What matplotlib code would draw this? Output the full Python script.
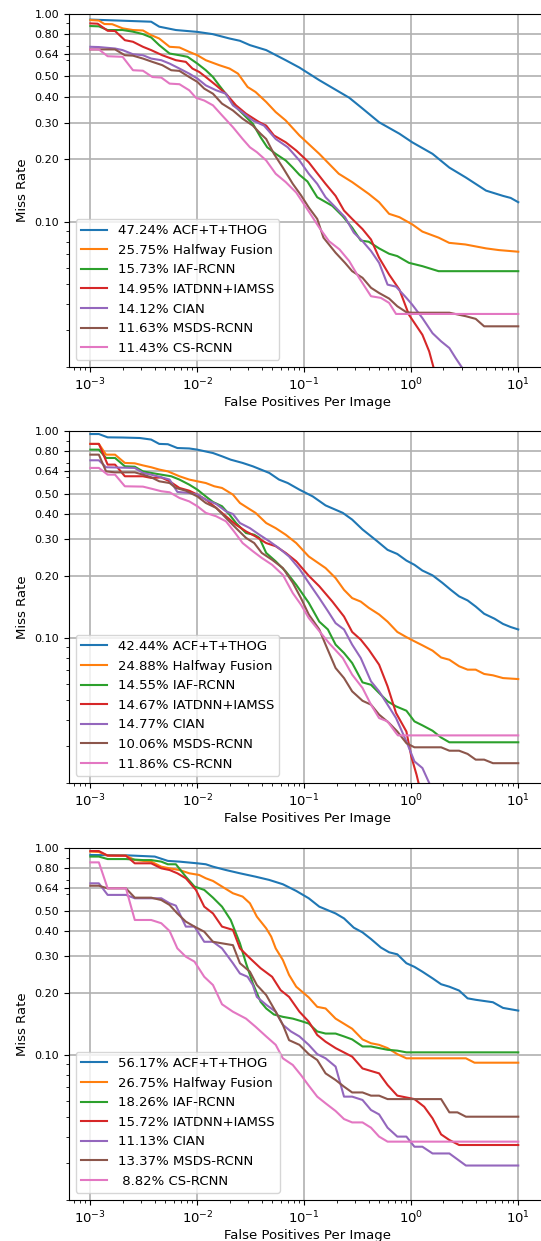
import numpy as np
import matplotlib
matplotlib.use("Agg")
import matplotlib.pyplot as plt

# method names and log-average miss rates shown in the legends
methods = ["ACF+T+THOG", "Halfway Fusion", "IAF-RCNN", "IATDNN+IAMSS",
           "CIAN", "MSDS-RCNN", "CS-RCNN"]
scores_p1 = [47.24, 25.75, 15.73, 14.95, 14.12, 11.63, 11.43]
scores_p2 = [42.44, 24.88, 14.55, 14.67, 14.77, 10.06, 11.86]
scores_p3 = [56.17, 26.75, 18.26, 15.72, 11.13, 13.37, 8.82]

yticks = [0.10, 0.20, 0.30, 0.40, 0.50, 0.64, 0.80, 1.00]

# ---- panel 1 curves: (fppi, miss rate) ----
p1_acf = [(1e-3, .94), (3.7e-3, .918), (4.4e-3, .869), (6.3e-3, .837), (1e-2, .82),
          (1.39e-2, .80), (2e-2, .762), (2.5e-2, .743), (3.1e-2, .708), (4.4e-2, .67),
          (6.7e-2, .599), (.09, .552), (.138, .48), (.263, .395), (.351, .35), (.5, .301),
          (.775, .265), (1.02, .241), (1.58, .212), (2.27, .182), (3.24, .163), (5.0, .141),
          (7.2, .133), (8.5, .13), (10, .124)]
p1_hf = [(1e-3, .935), (1.2e-3, .93), (1.35e-3, .895), (1.6e-3, .893), (2e-3, .853),
         (2.5e-3, .837), (3.1e-3, .833), (3.7e-3, .791), (4.4e-3, .762), (5.5e-3, .695),
         (6.8e-3, .69), (8.4e-3, .657), (1e-2, .633), (1.2e-2, .599), (1.6e-2, .567),
         (2e-2, .546), (2.4e-2, .516), (2.95e-2, .445), (3.5e-2, .421), (4.4e-2, .377),
         (5.4e-2, .337), (6.7e-2, .307), (9e-2, .26), (.138, .212), (.21, .17), (.28, .155),
         (.4, .136), (.5, .124), (.62, .109), (.775, .105), (1.02, .097), (1.27, .0895),
         (1.8, .0837), (2.26, .079), (3.2, .0776), (5.0, .0743), (6.6, .0729), (10, .0716)]
p1_iaf = [(1e-3, .875), (1.2e-3, .872), (1.45e-3, .837), (2e-3, .837), (2.5e-3, .822),
          (3.1e-3, .80), (3.7e-3, .771), (4.4e-3, .708), (5.5e-3, .645), (6.8e-3, .633),
          (8.1e-3, .622), (1e-2, .577), (1.2e-2, .536), (1.4e-2, .497), (1.6e-2, .453),
          (2e-2, .391), (2.3e-2, .356), (2.85e-2, .319), (3.3e-2, .296), (3.9e-2, .255),
          (4.5e-2, .228), (5.4e-2, .212), (6.7e-2, .197), (7.8e-2, .182), (9e-2, .168),
          (.107, .156), (.132, .131), (.183, .119), (.229, .106), (.28, .0935), (.337, .081),
          (.40, .08), (.5, .0743), (.62, .07), (.74, .0682), (.95, .0633), (1.27, .061),
          (1.8, .0577), (10, .0577)]
p1_iat = [(1e-3, .901), (1.17e-3, .898), (1.45e-3, .83), (1.7e-3, .828), (2.1e-3, .748),
          (2.5e-3, .735), (3.1e-3, .695), (3.7e-3, .67), (4.7e-3, .633), (6.3e-3, .599),
          (7.8e-3, .588), (9e-3, .546), (1.04e-2, .526), (1.2e-2, .497), (1.5e-2, .453),
          (1.85e-2, .413), (2.3e-2, .363), (2.85e-2, .331), (3.8e-2, .301), (4.4e-2, .29),
          (5.2e-2, .26), (6.7e-2, .241), (8.4e-2, .22), (.11, .193), (.132, .171),
          (.158, .152), (.196, .133), (.235, .113), (.28, .103), (.35, .092), (.42, .082),
          (.5, .067), (.62, .0556), (.775, .047), (.95, .0356), (1.27, .0285), (1.47, .0237),
          (1.62, .0197), (1.7, .018)]
p1_cian = [(1e-3, .695), (1.2e-3, .693), (1.7e-3, .682), (2e-3, .67), (2.5e-3, .64),
           (3.1e-3, .633), (3.7e-3, .61), (4.6e-3, .599), (5.5e-3, .577), (6.8e-3, .546),
           (8.4e-3, .516), (1e-2, .489), (1.2e-2, .453), (1.5e-2, .429), (1.85e-2, .413),
           (2.15e-2, .363), (2.5e-2, .343), (3.3e-2, .307), (4.2e-2, .29), (5.4e-2, .25),
           (7e-2, .228), (9e-2, .197), (.11, .17), (.132, .152), (.158, .131), (.196, .117),
           (.24, .105), (.29, .0885), (.35, .0805), (.42, .0722), (.5, .0633), (.6, .0497),
           (.72, .0486), (.9, .0429), (1.02, .0398), (1.27, .0343), (1.58, .029),
           (1.9, .0265), (2.27, .0246), (2.6, .022), (3.0, .0197), (3.2, .019)]
p1_msds = [(1e-3, .675), (1.7e-3, .675), (2.1e-3, .633), (2.5e-3, .63), (3.1e-3, .61),
           (3.8e-3, .588), (4.7e-3, .567), (5.7e-3, .536), (6.8e-3, .532), (8.4e-3, .497),
           (1e-2, .471), (1.16e-2, .437), (1.4e-2, .413), (1.7e-2, .37), (2.15e-2, .343),
           (2.65e-2, .313), (3.3e-2, .29), (3.9e-2, .265), (4.4e-2, .25), (5.2e-2, .212),
           (6.3e-2, .182), (7.8e-2, .152), (9.3e-2, .134), (.11, .117), (.132, .103),
           (.151, .0837), (.196, .0708), (.24, .0633), (.28, .0577), (.35, .0536), (.42, .048),
           (.5, .0453), (.62, .0426), (.74, .0391), (.9, .0366), (1.02, .0364), (2.27, .0364),
           (3.24, .035), (4.0, .034), (4.8, .0313), (10, .0313)]
p1_cs = [(1e-3, .675), (1.2e-3, .675), (1.45e-3, .626), (2e-3, .622), (2.5e-3, .536),
         (3.1e-3, .533), (3.8e-3, .497), (4.6e-3, .494), (5.5e-3, .462), (6.8e-3, .459),
         (8.4e-3, .429), (9.7e-3, .395), (1.16e-2, .383), (1.4e-2, .363), (1.7e-2, .325),
         (2.15e-2, .285), (2.65e-2, .25), (3.1e-2, .228), (3.6e-2, .216), (4.4e-2, .197),
         (5.4e-2, .17), (6.7e-2, .155), (8.4e-2, .138), (.11, .112), (.138, .0935),
         (.17, .0805), (.213, .0735), (.263, .0645), (.325, .0536), (.42, .0437),
         (.52, .0429), (.62, .0406), (.72, .0359), (10, .0359)]

# ---- panel 2 curves ----
p2_acf = [(1e-3, .97), (1.2e-3, .97), (1.45e-3, .935), (2e-3, .933), (2.9e-3, .928),
          (3.7e-3, .912), (4.4e-3, .869), (5.3e-3, .866), (6.5e-3, .83), (8.4e-3, .826),
          (1e-2, .815), (1.4e-2, .785), (1.7e-2, .757), (2.05e-2, .729), (2.65e-2, .703),
          (3.3e-2, .677), (4.7e-2, .629), (5.8e-2, .584), (7e-2, .562), (9e-2, .522),
          (.12, .484), (.158, .438), (.229, .403), (.28, .374), (.35, .335), (.48, .294),
          (.6, .267), (.74, .255), (.9, .237), (1.07, .226), (1.27, .212), (1.58, .201),
          (1.95, .185), (2.34, .171), (2.8, .159), (3.36, .152), (4.0, .142), (4.8, .131),
          (6.0, .124), (7.2, .117), (8.5, .113), (10, .11)]
p2_hf = [(1e-3, .869), (1.2e-3, .869), (1.4e-3, .771), (1.7e-3, .771), (2.1e-3, .703),
         (2.6e-3, .70), (3.1e-3, .684), (3.7e-3, .67), (4.4e-3, .653), (5.3e-3, .64),
         (6.8e-3, .606), (8.4e-3, .584), (1e-2, .573), (1.2e-2, .562), (1.44e-2, .542),
         (1.7e-2, .532), (2.15e-2, .494), (2.5e-2, .45), (2.95e-2, .426), (3.5e-2, .403),
         (4.4e-2, .36), (5.4e-2, .34), (6.7e-2, .316), (8.4e-2, .288), (.11, .248),
         (.158, .218), (.196, .195), (.235, .171), (.28, .156), (.337, .15), (.4, .14),
         (.5, .13), (.6, .12), (.74, .107), (.9, .101), (1.07, .0964), (1.27, .0922),
         (1.58, .0869), (1.9, .0805), (2.27, .0785), (2.8, .073), (3.36, .0703),
         (4.0, .0703), (4.8, .067), (5.8, .066), (7.2, .064), (10, .0633)]
p2_iaf = [(1e-3, .815), (1.2e-3, .815), (1.4e-3, .743), (1.7e-3, .743), (2.1e-3, .677),
          (2.6e-3, .674), (3.1e-3, .64), (3.7e-3, .629), (4.6e-3, .617), (5.7e-3, .606),
          (6.8e-3, .584), (8.4e-3, .552), (1e-2, .522), (1.2e-2, .484), (1.4e-2, .455),
          (1.7e-2, .434), (2e-2, .395), (2.3e-2, .36), (2.85e-2, .322), (3.4e-2, .316),
          (3.8e-2, .305), (4.4e-2, .258), (5.4e-2, .235), (6.7e-2, .21), (8.4e-2, .181),
          (.11, .148), (.138, .12), (.166, .11), (.196, .0929), (.235, .0846), (.28, .0757),
          (.35, .061), (.42, .0594), (.5, .0542), (.6, .0494), (.72, .0467), (.9, .0445),
          (1.07, .0395), (1.27, .0378), (1.58, .0356), (1.9, .033), (2.27, .0313), (10, .0313)]
p2_iat = [(1e-3, .869), (1.2e-3, .869), (1.45e-3, .69), (1.7e-3, .69), (2.1e-3, .606),
          (3.1e-3, .606), (3.7e-3, .595), (4.6e-3, .598), (5.5e-3, .573), (6.8e-3, .532),
          (8.4e-3, .516), (1e-2, .494), (1.2e-2, .467), (1.5e-2, .426), (1.85e-2, .388),
          (2.3e-2, .353), (2.85e-2, .328), (3.5e-2, .31), (4.4e-2, .288), (5.4e-2, .278),
          (6.7e-2, .258), (8.4e-2, .235), (.11, .2), (.138, .178), (.183, .15), (.235, .127),
          (.28, .107), (.337, .0982), (.4, .0879), (.5, .0743), (.6, .0584), (.72, .0434),
          (.9, .0353), (1.0, .0267), (1.12, .0218), (1.18, .0195), (1.22, .018)]
p2_cian = [(1e-3, .724), (1.2e-3, .724), (1.4e-3, .67), (2.6e-3, .665), (3.1e-3, .629),
           (3.7e-3, .617), (4.6e-3, .599), (5.5e-3, .584), (6.5e-3, .509), (8.4e-3, .503),
           (1e-2, .494), (1.2e-2, .467), (1.5e-2, .445), (1.85e-2, .41), (2.15e-2, .398),
           (2.5e-2, .36), (3.1e-2, .34), (3.8e-2, .316), (4.7e-2, .294), (5.8e-2, .272),
           (7.2e-2, .248), (9e-2, .216), (.11, .185), (.138, .156), (.166, .135), (.196, .118),
           (.235, .11), (.28, .0929), (.337, .08), (.42, .0617), (.5, .0552), (.6, .0476),
           (.72, .041), (.9, .0316), (1.07, .0253), (1.27, .0235), (1.47, .0199), (1.55, .019)]
p2_msds = [(1e-3, .771), (1.2e-3, .771), (1.4e-3, .64), (1.7e-3, .633), (2.6e-3, .633),
           (3.1e-3, .617), (3.7e-3, .599), (4.4e-3, .573), (5.5e-3, .562), (6.3e-3, .532),
           (7.8e-3, .516), (1e-2, .484), (1.2e-2, .45), (1.5e-2, .426), (1.85e-2, .381),
           (2.3e-2, .34), (2.85e-2, .305), (3.4e-2, .288), (4e-2, .258), (5e-2, .239),
           (6.3e-2, .218), (7.8e-2, .185), (9.3e-2, .156), (.11, .13), (.138, .11),
           (.158, .0929), (.196, .0716), (.235, .064), (.28, .0552), (.35, .0497),
           (.42, .0476), (.5, .0426), (.62, .0388), (.74, .0353), (.9, .031), (1.07, .0296),
           (1.9, .0296), (2.27, .0285), (2.8, .0285), (3.36, .0275), (4.0, .0258),
           (4.8, .0258), (5.8, .0248), (10, .0248)]
p2_cs = [(1e-3, .665), (1.2e-3, .665), (1.45e-3, .617), (1.7e-3, .617), (2.1e-3, .542),
         (3.1e-3, .54), (3.7e-3, .528), (4.6e-3, .513), (5.5e-3, .507), (6.8e-3, .476),
         (8.4e-3, .458), (1e-2, .434), (1.2e-2, .403), (1.5e-2, .388), (1.85e-2, .367),
         (2.2e-2, .328), (2.65e-2, .288), (3.3e-2, .263), (4e-2, .244), (5e-2, .226),
         (6.3e-2, .202), (7.8e-2, .165), (9.3e-2, .145), (.11, .125), (.138, .108),
         (.17, .0946), (.229, .08), (.28, .0665), (.35, .0573), (.42, .0476), (.5, .041),
         (.6, .0395), (.72, .0347), (.75, .0338), (10, .0338)]

# ---- panel 3 curves ----
p3_acf = [(1e-3, .928), (2.15e-3, .925), (4e-3, .912), (5.3e-3, .869), (6.8e-3, .862),
          (1e-2, .846), (1.2e-2, .837), (1.4e-2, .815), (1.85e-2, .785), (2.5e-2, .757),
          (3.5e-2, .729), (4.7e-2, .703), (6.3e-2, .67), (8.4e-2, .622), (.11, .573),
          (.138, .522), (.196, .484), (.235, .458), (.29, .413), (.35, .392), (.42, .364),
          (.52, .331), (.62, .314), (.74, .307), (.9, .278), (1.07, .267), (1.27, .253),
          (1.58, .235), (1.9, .22), (2.27, .214), (2.8, .205), (3.36, .188), (4.0, .185),
          (5.8, .18), (7.2, .169), (10, .164)]
p3_hf = [(1e-3, .964), (1.2e-3, .96), (1.45e-3, .922), (2.15e-3, .922), (2.6e-3, .877),
         (3.7e-3, .862), (4.6e-3, .815), (5.5e-3, .80), (6.8e-3, .785), (8.4e-3, .757),
         (1.04e-2, .743), (1.2e-2, .716), (1.4e-2, .695), (1.7e-2, .653), (2.15e-2, .606),
         (2.65e-2, .584), (3.1e-2, .542), (3.6e-2, .467), (4.4e-2, .41), (4.9e-2, .374),
         (5.4e-2, .328), (6.3e-2, .288), (7.2e-2, .244), (8.4e-2, .214), (.11, .19),
         (.132, .171), (.158, .168), (.196, .15), (.28, .134), (.35, .119), (.42, .114),
         (.5, .112), (.6, .108), (.74, .101), (.9, .0964), (3.24, .0964), (3.9, .0918),
         (10, .0918)]
p3_iaf = [(1e-3, .912), (1.2e-3, .912), (1.45e-3, .887), (2.15e-3, .887), (3.1e-3, .877),
          (3.7e-3, .877), (4.6e-3, .862), (5.3e-3, .837), (6.3e-3, .837), (7.8e-3, .729),
          (9.4e-3, .653), (1.16e-2, .629), (1.4e-2, .577), (1.7e-2, .522), (2.05e-2, .45),
          (2.5e-2, .347), (2.85e-2, .278), (3.3e-2, .222), (3.9e-2, .181), (4.4e-2, .168),
          (5.2e-2, .157), (6.3e-2, .153), (7.8e-2, .15), (9.3e-2, .146), (.11, .142),
          (.132, .13), (.158, .127), (.196, .127), (.235, .123), (.28, .119), (.35, .11),
          (.42, .11), (.5, .108), (.6, .106), (.74, .105), (.9, .103), (10, .103)]
p3_iat = [(1e-3, .97), (1.2e-3, .97), (1.45e-3, .922), (2.15e-3, .92), (2.6e-3, .846),
          (3.7e-3, .846), (4.6e-3, .80), (5.5e-3, .785), (6.5e-3, .757), (7.8e-3, .716),
          (9.7e-3, .629), (1.16e-2, .522), (1.4e-2, .484), (1.7e-2, .418), (2.15e-2, .403),
          (2.5e-2, .328), (3.1e-2, .294), (3.9e-2, .263), (5e-2, .239), (6e-2, .206),
          (7.2e-2, .191), (9e-2, .162), (.11, .145), (.132, .125), (.158, .116), (.196, .108),
          (.28, .0982), (.35, .0861), (.5, .0815), (.6, .0716), (.74, .0636), (1.07, .0612),
          (1.32, .0562), (1.58, .0494), (1.9, .0413), (2.27, .0388), (2.8, .0367), (10, .0367)]
p3_cian = [(1e-3, .677), (1.2e-3, .677), (1.45e-3, .595), (2.15e-3, .595), (2.6e-3, .573),
           (4.6e-3, .573), (5.5e-3, .542), (6.3e-3, .528), (7.8e-3, .418), (9.4e-3, .418),
           (1.16e-2, .353), (1.4e-2, .353), (1.7e-2, .328), (2.15e-2, .278), (2.5e-2, .248),
           (2.95e-2, .239), (3.3e-2, .218), (3.6e-2, .191), (4.4e-2, .175), (5.4e-2, .162),
           (6.3e-2, .14), (7.5e-2, .13), (9e-2, .123), (.11, .112), (.132, .101),
           (.158, .0964), (.196, .0879), (.235, .0629), (.28, .0629), (.35, .0606),
           (.42, .0542), (.5, .0516), (.6, .0445), (.74, .0403), (.9, .0403), (1.07, .036),
           (1.27, .036), (1.58, .0334), (2.27, .0334), (3.24, .0292), (10, .0292)]
p3_msds = [(1e-3, .659), (1.2e-3, .659), (1.45e-3, .64), (2.15e-3, .64), (2.6e-3, .577),
           (3.7e-3, .577), (4.6e-3, .562), (5.5e-3, .532), (6.5e-3, .484), (7.8e-3, .442),
           (9.4e-3, .418), (1.16e-2, .395), (1.4e-2, .353), (1.7e-2, .347), (2.15e-2, .34),
           (2.5e-2, .278), (3.1e-2, .253), (3.6e-2, .218), (4.4e-2, .195), (5.4e-2, .162),
           (6.3e-2, .14), (7.2e-2, .118), (9e-2, .112), (.11, .101), (.132, .0946),
           (.158, .0815), (.196, .0757), (.235, .0703), (.28, .0659), (.35, .0659),
           (.42, .0636), (.5, .0636), (.6, .0612), (1.9, .0612), (2.27, .0528), (2.7, .0528),
           (3.24, .0503), (10, .0503)]
p3_cs = [(1e-3, .855), (1.2e-3, .855), (1.45e-3, .64), (2.15e-3, .64), (2.6e-3, .45),
         (3.7e-3, .45), (4.6e-3, .434), (5.5e-3, .398), (6.5e-3, .328), (7.8e-3, .299),
         (9.4e-3, .283), (1.16e-2, .239), (1.4e-2, .218), (1.7e-2, .176), (2.15e-2, .162),
         (2.85e-2, .15), (3.5e-2, .137), (4.4e-2, .123), (5.4e-2, .112), (6.3e-2, .0964),
         (7.8e-2, .0895), (9.3e-2, .08), (.11, .0711), (.132, .0629), (.158, .0584),
         (.196, .0536), (.235, .049), (.28, .0472), (.35, .0472), (.42, .0445), (.5, .0403),
         (.6, .0381), (10, .0381)]

panels = [
    ([p1_acf, p1_hf, p1_iaf, p1_iat, p1_cian, p1_msds, p1_cs], scores_p1),
    ([p2_acf, p2_hf, p2_iaf, p2_iat, p2_cian, p2_msds, p2_cs], scores_p2),
    ([p3_acf, p3_hf, p3_iaf, p3_iat, p3_cian, p3_msds, p3_cs], scores_p3),
]

W, H = 541, 1241
fig = plt.figure(figsize=(W / 100, H / 100), dpi=100)

# axes boxes in pixels: (left, top, bottom); width set so one decade ~107 px
boxes = [(69, 14, 366.7), (69, 431.3, 782.5), (69, 848.3, 1199.5)]
ax_w = 476

for (curves, scores), (left, top, bottom) in zip(panels, boxes):
    ax = fig.add_axes([left / W, (H - bottom) / H, ax_w / W, (bottom - top) / H])
    for i, (pts, name, s) in enumerate(zip(curves, methods, scores)):
        arr = np.array(pts)
        ax.plot(arr[:, 0], arr[:, 1], color="C%d" % i, lw=1.5,
                label="%5.2f%% %s" % (s, name))
    ax.set_xscale("log")
    ax.set_yscale("log")
    ax.set_xlim(10 ** -3.2, 10 ** 1.25)
    ax.set_ylim(0.02, 1.0)
    ax.set_yticks(yticks)
    ax.set_yticklabels(["%.2f" % v for v in yticks])
    ax.yaxis.set_minor_formatter(matplotlib.ticker.NullFormatter())
    ax.tick_params(axis="y", labelsize=8)
    ax.tick_params(axis="x", labelsize=9.5)
    ax.grid(True, which="major", color="#b0b0b0", lw=1.2)
    ax.set_xlabel("False Positives Per Image", fontsize=9.5, labelpad=2)
    ax.set_ylabel("Miss Rate", fontsize=9.5)
    ax.legend(loc="lower left", fontsize=9.5)

fig.savefig("out.png", dpi=100)
